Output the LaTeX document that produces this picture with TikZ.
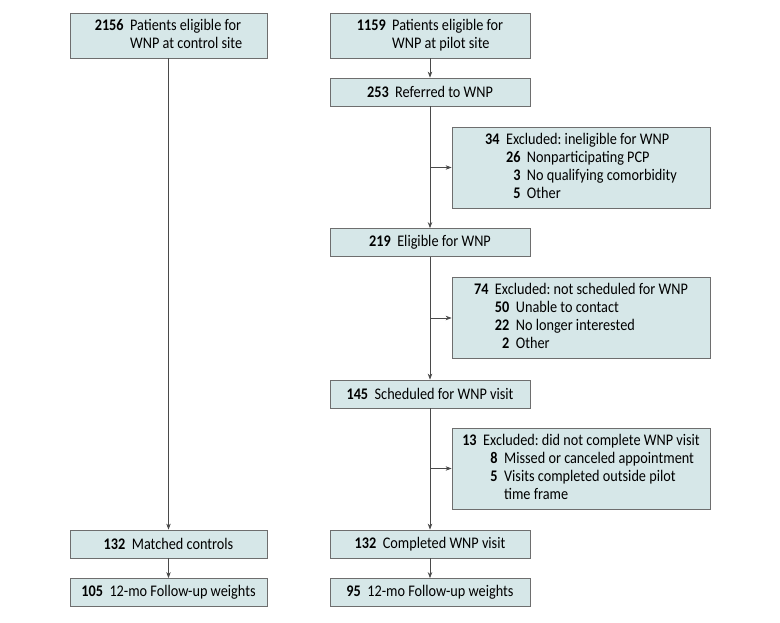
\documentclass[tikz,border=0pt]{standalone}
\usepackage{fontspec}
\setmainfont{Carlito}[FakeStretch=0.88]
\usepackage{calc}
\usetikzlibrary{arrows.meta,positioning,calc}
\definecolor{boxfill}{HTML}{D6E7E8}
\definecolor{boxline}{HTML}{6E6E6E}
\definecolor{flowline}{HTML}{4A4A4A}
\newcommand{\num}[1]{\textbf{#1}}
\newcommand{\subn}[1]{\makebox[\widthof{\textbf{00}}][r]{\textbf{#1}}\hspace{0.4em}}
\frenchspacing

\begin{document}
\begin{tikzpicture}[x=1pt,y=-1pt,
  font=\fontsize{16.2}{18}\selectfont,
  flowbox/.style={draw=boxline,fill=boxfill,line width=0.8pt,inner sep=0pt,
    minimum width=200pt,minimum height=28pt,align=left},
  exbox/.style={flowbox,minimum width=258pt,minimum height=81pt},
  arr/.style={-{Stealth[length=6pt,width=4.5pt]},draw=flowline,line width=0.7pt}]
\useasboundingbox (0,0) rectangle (780,622);
% left arm
\node[flowbox,minimum width=197pt,minimum height=45pt] (ctrl) at (168.5,35.5)
  {\begin{tabular}{@{}r@{\hspace{0.4em}}l@{}}\num{2156} & Patients eligible for\\ & WNP at control site\end{tabular}};
\node[flowbox,minimum width=197pt] (matched) at (168.5,544) {\num{132}\hspace{0.4em}Matched controls};
\node[flowbox,minimum width=197pt] (fuctrl) at (168.5,592.5) {\num{105}\hspace{0.4em}12-mo Follow-up weights};
% right arm
\node[flowbox,minimum height=45pt] (pilot) at (430,35.5)
  {\begin{tabular}{@{}r@{\hspace{0.4em}}l@{}}\num{1159} & Patients eligible for\\ & WNP at pilot site\end{tabular}};
\node[flowbox] (referred) at (430,92) {\num{253}\hspace{0.4em}Referred to WNP};
\node[flowbox] (eligible) at (430,242.5) {\num{219}\hspace{0.4em}Eligible for WNP};
\node[flowbox] (sched) at (430,394) {\num{145}\hspace{0.4em}Scheduled for WNP visit};
\node[flowbox] (completed) at (430,544) {\num{132}\hspace{0.4em}Completed WNP visit};
\node[flowbox] (fupilot) at (430,592.5) {\num{95}\hspace{0.4em}12-mo Follow-up weights};
% exclusions
\node[exbox] (ex1) at (581,167.5)
  {\begin{tabular}{@{}r@{\hspace{0.4em}}l@{}}\num{34} & Excluded: ineligible for WNP\\
   & \subn{26}Nonparticipating PCP\\ & \subn{3}No qualifying comorbidity\\ & \subn{5}Other\end{tabular}};
\node[exbox] (ex2) at (581,318)
  {\begin{tabular}{@{}r@{\hspace{0.4em}}l@{}}\num{74} & Excluded: not scheduled for WNP\\
   & \subn{50}Unable to contact\\ & \subn{22}No longer interested\\ & \subn{2}Other\end{tabular}};
\node[exbox] (ex3) at (581,468.5)
  {\begin{tabular}{@{}r@{\hspace{0.4em}}l@{}}\num{13} & Excluded: did not complete WNP visit\\
   & \subn{8}Missed or canceled appointment\\ & \subn{5}Visits completed outside pilot\\ & \phantom{\subn{5}}time frame\end{tabular}};
% connectors
\foreach \a/\b in {ctrl/matched,matched/fuctrl,pilot/referred,referred/eligible,
  eligible/sched,sched/completed,completed/fupilot}
  \draw[arr] (\a) -- (\b);
\foreach \s/\e in {referred/ex1,eligible/ex2,sched/ex3}
  \draw[arr] (\s.south |- \e.west) -- (\e.west);
\end{tikzpicture}
\end{document}
